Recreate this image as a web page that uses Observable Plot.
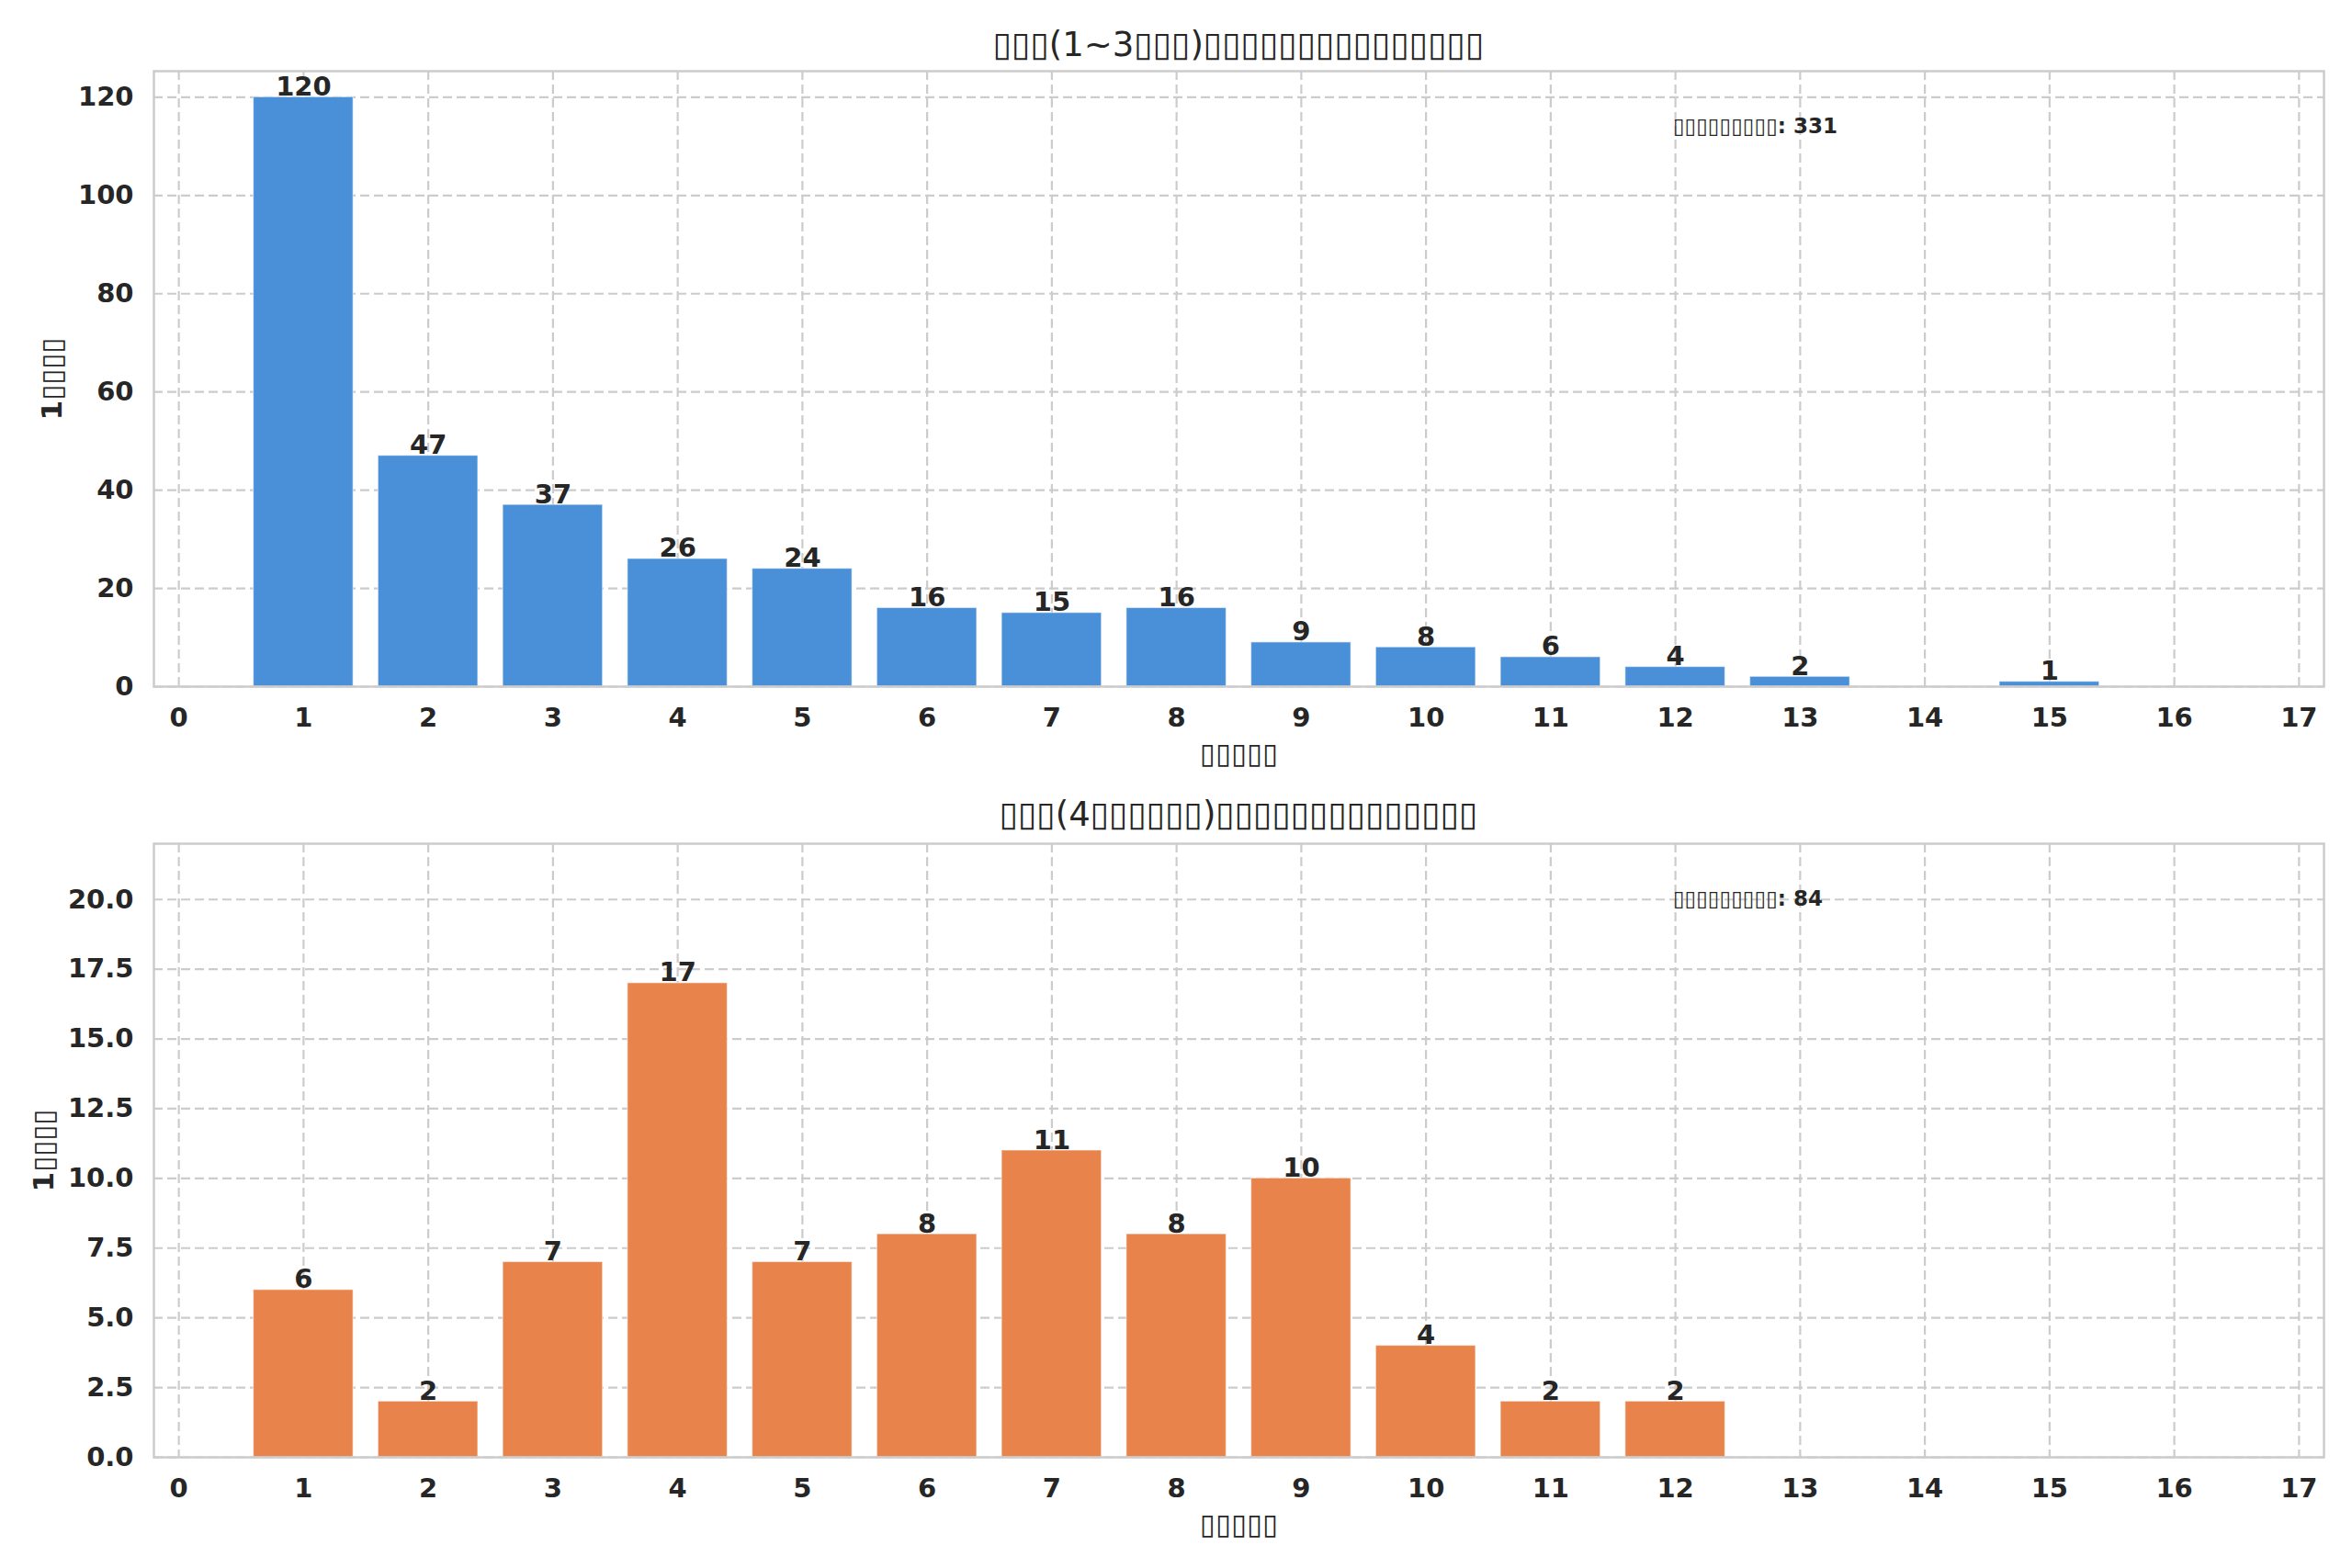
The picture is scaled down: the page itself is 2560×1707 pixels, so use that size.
<!DOCTYPE html>
<html><head><meta charset="utf-8">
<script src="https://cdn.jsdelivr.net/npm/d3@7"></script>
<script src="https://cdn.jsdelivr.net/npm/@observablehq/plot@0.6"></script>
<style>
body{margin:0;background:#fff;}
#wrap{position:relative;width:2560px;height:1707px;font-family:"DejaVu Sans",sans-serif;color:#262626;background:#fff;overflow:hidden;}
.title{position:absolute;left:167px;width:2362px;text-align:center;font-size:37px;line-height:44px;white-space:nowrap;}
.plot{position:absolute;left:0;}
.box{font-weight:normal;}
</style></head><body>
<div id="wrap">
  <div class="title" id="t1" style="top:27px"></div>
  <div class="plot" id="p1" style="top:70px"></div>
  <div class="title" id="t2" style="top:865px"></div>
  <div class="plot" id="p2" style="top:905px"></div>
</div>
<script>
// ---- data ----
const xPositions = [1,2,3,4,5,6,7,8,9,10,11,12,13,14,15,16,17];
const countsTop    = [120,47,37,26,24,16,15,16,9,8,6,4,2,0,1,0,0];
const countsBottom = [6,2,7,17,7,8,11,8,10,4,2,2,0,0,0,0,0];
const xTicks = [0,1,2,3,4,5,6,7,8,9,10,11,12,13,14,15,16,17];
const yTicksTop = [0,20,40,60,80,100,120];
const yTicksBottom = [0,2.5,5,7.5,10,12.5,15,17.5,20];
const titleTop = "▯▯▯(1~3▯▯▯)▯▯▯▯▯▯▯▯▯▯▯▯▯▯▯";
const titleBottom = "▯▯▯(4▯▯▯▯▯▯)▯▯▯▯▯▯▯▯▯▯▯▯▯▯";
const xLabel = "▯▯▯▯▯";
const yLabel = "1▯▯▯▯";
const notePrefix = "▯▯▯▯▯▯▯▯▯: ";
const colorTop = "#4a90d9";
const colorBottom = "#e8844b";

function splitRuns(str){
  return str.match(/▯+|[^▯]+/g) || [];
}
function setTitle(id, str){
  const el = document.getElementById(id);
  splitRuns(str).forEach(r=>{
    const s = document.createElement("span");
    if (r[0]==="▯") s.className="box";
    s.textContent = r;
    el.appendChild(s);
  });
}
function fixSvgText(svg){
  d3.select(svg).selectAll("text").each(function(){
    const t = this.textContent;
    if (!t.includes("▯") || this.querySelector("tspan")) return;
    this.textContent = "";
    splitRuns(t).forEach(r=>{
      const ts = document.createElementNS("http://www.w3.org/2000/svg","tspan");
      if (r[0]==="▯") ts.setAttribute("font-weight","normal");
      ts.textContent = r;
      this.appendChild(ts);
    });
  });
}

const gridStyle = {stroke:"#cccccc", strokeOpacity:1, strokeWidth:2.2, strokeDasharray:"10,5"};
const ink = "#262626";

function chart({counts, color, yMax, yTicks, yFmt, yLabelDx, height, marginTop, marginBottom}){
  const data = xPositions.map((x,i)=>({x, v:counts[i]})).filter(d=>d.v>0);
  const total = d3.sum(counts);
  const xDom = [-0.2, 17.2];
  const note = notePrefix + total;
  const svg = Plot.plot({
    width:2560, height, marginTop, marginBottom, marginLeft:167, marginRight:31,
    style:{fontFamily:'"DejaVu Sans", sans-serif', color:ink, background:"#fff", overflow:"visible"},
    x:{domain:xDom},
    y:{domain:[0,yMax]},
    marks:[
      Plot.gridX(xTicks, gridStyle),
      Plot.gridY(yTicks, gridStyle),
      Plot.rectY(data, {x1:d=>d.x-0.4, x2:d=>d.x+0.4, y:"v", fill:color, stroke:"#ffffff", strokeOpacity:0.5, strokeWidth:1.2}),
      Plot.text(data, {x:"x", y:"v", text:d=>String(d.v), lineAnchor:"bottom", dy:-2, fontSize:29, fontWeight:"bold", fill:ink}),
      Plot.axisX(xTicks, {tickSize:0, tickPadding:23, fontSize:29, fontWeight:"bold", label:null, tickFormat:d=>String(d), fill:ink}),
      Plot.axisY(yTicks, {tickSize:0, tickPadding:22, fontSize:29, fontWeight:"bold", label:null, tickFormat:yFmt, fill:ink}),
      Plot.frame({stroke:"#cccccc", strokeWidth:2.5}),
      Plot.text([xLabel], {text:d=>d, frameAnchor:"bottom", dy:74, lineAnchor:"middle", fontSize:31, fill:ink}),
      Plot.text([yLabel], {text:d=>d, frameAnchor:"left", dx:yLabelDx, rotate:-90, textAnchor:"middle", lineAnchor:"middle", fontSize:31, fontWeight:"bold", fill:ink}),
      Plot.text([note], {text:d=>d, x:()=>xDom[0]+0.7*(xDom[1]-xDom[0]), y:()=>0.91*yMax, textAnchor:"start", lineAnchor:"middle", fontSize:23, fontWeight:"bold", fill:ink})
    ]
  });
  fixSvgText(svg);
  return svg;
}

setTitle("t1", titleTop);
setTitle("t2", titleBottom);
document.getElementById("p1").appendChild(chart({
  counts:countsTop, color:colorTop, yMax:125.3, yTicks:yTicksTop, yFmt:d=>String(d),
  yLabelDx:-110, height:783, marginTop:7, marginBottom:106
}));
document.getElementById("p2").appendChild(chart({
  counts:countsBottom, color:colorBottom, yMax:22, yTicks:yTicksBottom, yFmt:d=>d.toFixed(1),
  yLabelDx:-119, height:802, marginTop:13, marginBottom:121
}));
</script>
</body></html>
